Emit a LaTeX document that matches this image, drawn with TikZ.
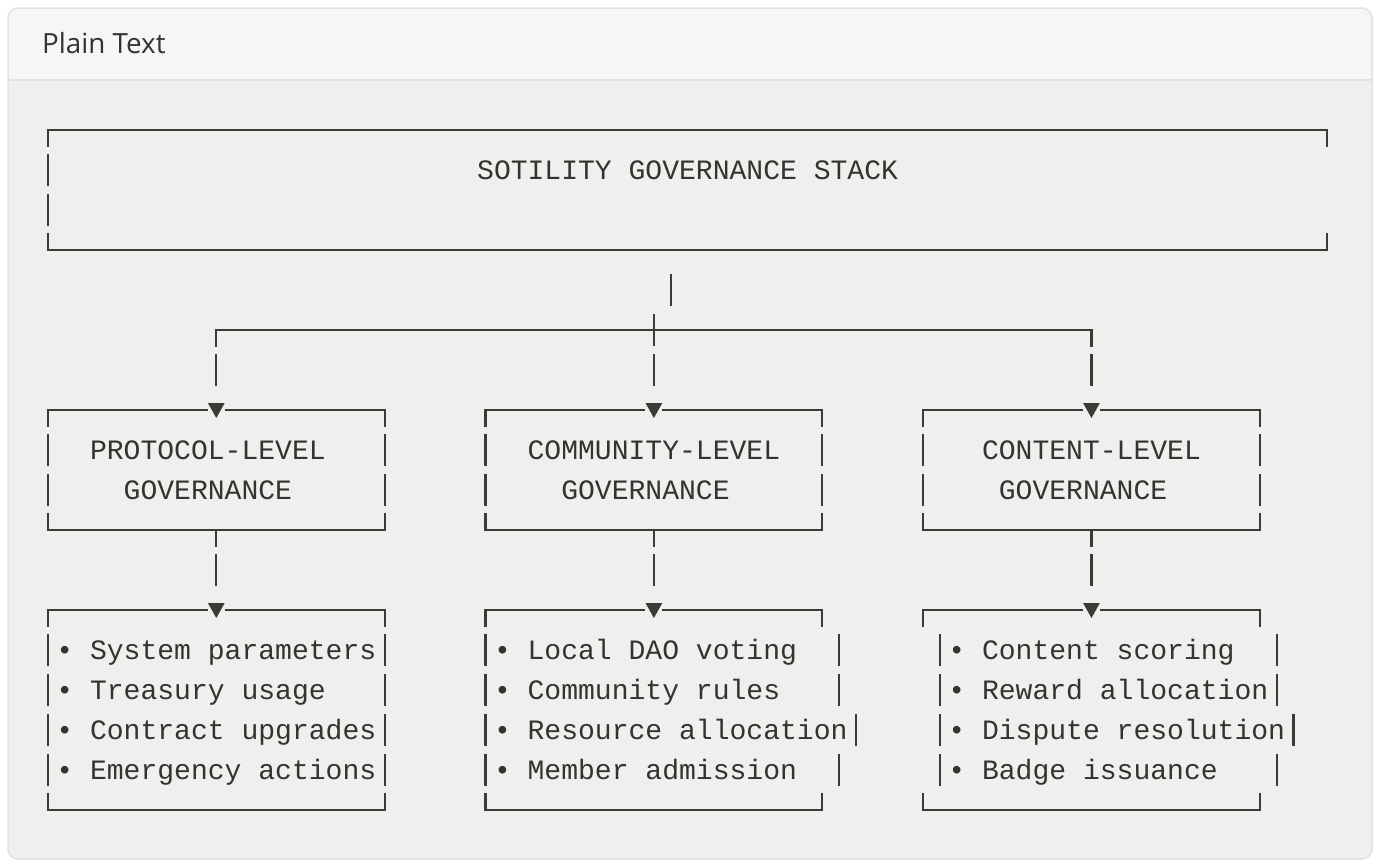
\documentclass[tikz,border=0pt]{standalone}
\usepackage{fontspec}
\newfontfamily\mono{Liberation Mono}
\newfontfamily\hdrfont{Open Sans}
\definecolor{ink}{HTML}{3A3A37}
\definecolor{txt}{HTML}{333330}
\definecolor{bodybg}{HTML}{EFEFED}
\definecolor{headbg}{HTML}{F6F6F6}
\definecolor{cardline}{HTML}{E2E2E2}
\newcommand\X[1]{48+(#1)*16.83}
\newcommand\Y[1]{130+(#1)*40}
\tikzset{
  art/.style={draw=ink, line width=2.2pt},
  mtxt/.style={font=\mono\fontsize{28.05}{40}\selectfont, text=txt, anchor=base west, inner sep=0pt, outer sep=0pt},
  hdr/.style={font=\hdrfont\fontsize{27.8}{32}\selectfont, text=txt, anchor=base west, inner sep=0pt},
  tri/.style={fill=ink, draw=none},
}
% vertical bar of one text row
\newcommand\vbar[2]{\draw[art] ({\X{#1}},{\Y{#2}-16}) -- ({\X{#1}},{\Y{#2}+16});}
% text starting at column #1, row #2
\newcommand\mt[4]{\node[mtxt] (#3) at ({\X{#1}-8.415},{\Y{#2}+9}) {#4};}
% box top with arrow: left col, mid col, right col, row
\newcommand\arrowtop[4]{%
  \draw[art] ({\X{#1}},{\Y{#4}+17}) |- ({\X{#2}-8.4},{\Y{#4}});
  \draw[art] ({\X{#2}+8.4},{\Y{#4}}) -| ({\X{#3}},{\Y{#4}+17});
  \fill[tri] ({\X{#2}-8.4},{\Y{#4}-7}) -- ({\X{#2}+8.4},{\Y{#4}-7}) -- ({\X{#2}},{\Y{#4}+8}) -- cycle;}
% box bottom: left col, right col, row
\newcommand\boxbottom[3]{%
  \draw[art] ({\X{#1}},{\Y{#3}-17}) |- ({\X{#2}},{\Y{#3}}) -- ({\X{#2}},{\Y{#3}-17});}
\begin{document}
\begin{tikzpicture}[x=1pt,y=-1pt]
\useasboundingbox (0,0) rectangle (1379,860);
\fill[white] (0,0) rectangle (1379,860);
% card
\fill[bodybg, rounded corners=10pt] (8,8) rectangle (1372,859);
\begin{scope}
  \clip[rounded corners=10pt] (8,8) rectangle (1372,859);
  \fill[headbg] (8,8) rectangle (1372,80);
\end{scope}
\draw[cardline, line width=1.5pt] (8,80) -- (1372,80);
\draw[cardline, line width=1.5pt, rounded corners=10pt] (8,8) rectangle (1372,859);
\node[hdr] (title) at (42,53) {Plain Text};

% top box
\draw[art] ({\X{0}},{\Y{0}+17}) |- ({\X{76}},{\Y{0}}) -- ({\X{76}},{\Y{0}+17});
\vbar{0}{1}
\vbar{0}{2}
\boxbottom{0}{76}{3}
\mt{26}{1}{stack}{SOTILITY GOVERNANCE STACK}

% stem and junction
\vbar{37}{4}
\coordinate (jl) at ({\X{10}},{\Y{5}});
\coordinate (jr) at ({\X{62}},{\Y{5}});
\draw[art] ({\X{10}},{\Y{5}+17}) |- (jr) -- ({\X{62}},{\Y{5}+17});
\vbar{36}{5}
\foreach \c in {10,36,62} {\vbar{\c}{6}}

% level boxes
\arrowtop{0}{10}{20}{7}
\arrowtop{26}{36}{46}{7}
\arrowtop{52}{62}{72}{7}
\foreach \c in {0,20,26,46,52,72} {\vbar{\c}{8}\vbar{\c}{9}}
\boxbottom{0}{20}{10}
\boxbottom{26}{46}{10}
\boxbottom{52}{72}{10}
\mt{3}{8}{p1}{PROTOCOL-LEVEL}
\mt{5}{9}{p2}{GOVERNANCE}
\mt{29}{8}{c1}{COMMUNITY-LEVEL}
\mt{31}{9}{c2}{GOVERNANCE}
\mt{56}{8}{t1}{CONTENT-LEVEL}
\mt{57}{9}{t2}{GOVERNANCE}

% stems to item boxes
\foreach \c in {10,36,62} {
  \draw[art] ({\X{\c}},{\Y{10}}) -- ({\X{\c}},{\Y{10}+17});
  \vbar{\c}{11}
}

% item boxes
\arrowtop{0}{10}{20}{12}
\arrowtop{26}{36}{46}{12}
\arrowtop{52}{62}{72}{12}
\boxbottom{0}{20}{17}
\boxbottom{26}{46}{17}
\boxbottom{52}{72}{17}
\foreach \r in {13,14,15,16} {\vbar{0}{\r}\vbar{20}{\r}\vbar{26}{\r}\vbar{53}{\r}}
\vbar{47}{13}\vbar{47}{14}\vbar{48}{15}\vbar{47}{16}
\vbar{73}{13}\vbar{73}{14}\vbar{74}{15}\vbar{73}{16}

\mt{1}{13}{pa}{• System parameters}
\mt{1}{14}{pb}{• Treasury usage}
\mt{1}{15}{pc}{• Contract upgrades}
\mt{1}{16}{pd}{• Emergency actions}
\mt{27}{13}{ca}{• Local DAO voting}
\mt{27}{14}{cb}{• Community rules}
\mt{27}{15}{cc}{• Resource allocation}
\mt{27}{16}{cd}{• Member admission}
\mt{54}{13}{ta}{• Content scoring}
\mt{54}{14}{tb}{• Reward allocation}
\mt{54}{15}{tc}{• Dispute resolution}
\mt{54}{16}{td}{• Badge issuance}
\end{tikzpicture}
\end{document}
